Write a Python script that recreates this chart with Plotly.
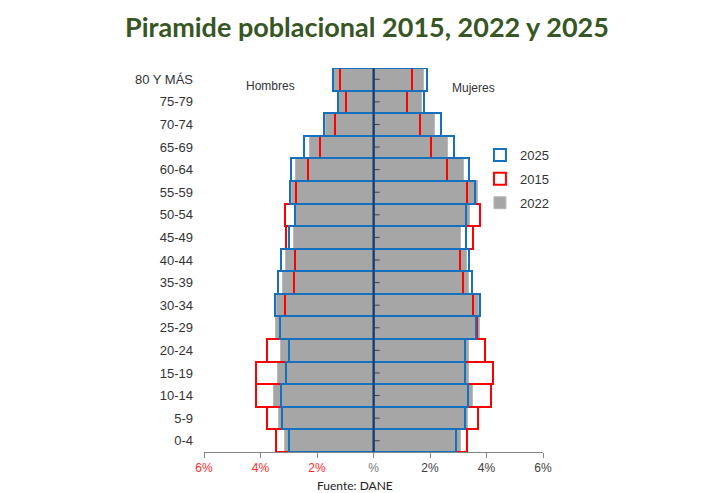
import plotly.graph_objects as go

cats = ['0-4', '5-9', '10-14', '15-19', '20-24', '25-29', '30-34', '35-39', '40-44',
        '45-49', '50-54', '55-59', '60-64', '65-69', '70-74', '75-79', '80 Y MÁS']

men_2025 = [3.00, 3.23, 3.26, 3.11, 3.00, 3.30, 3.47, 3.38, 3.29, 3.00, 2.77, 2.97, 2.93, 2.46, 1.76, 1.26, 1.44]
men_2015 = [3.46, 3.76, 4.15, 4.15, 3.76, 3.32, 3.14, 2.82, 2.77, 3.09, 3.14, 2.73, 2.32, 1.88, 1.38, 0.97, 1.20]
men_2022 = [3.15, 3.35, 3.52, 3.38, 3.26, 3.46, 3.40, 3.20, 3.09, 2.80, 2.75, 2.90, 2.76, 2.26, 1.67, 1.24, 1.40]

women_2025 = [2.92, 3.24, 3.33, 3.24, 3.24, 3.63, 3.77, 3.47, 3.39, 3.27, 3.27, 3.60, 3.39, 2.86, 2.39, 1.77, 1.88]
women_2015 = [3.30, 3.69, 4.16, 4.22, 3.96, 3.65, 3.53, 3.18, 3.06, 3.51, 3.78, 3.31, 2.60, 2.04, 1.63, 1.18, 1.35]
women_2022 = [3.10, 3.35, 3.51, 3.39, 3.39, 3.78, 3.75, 3.39, 3.31, 3.10, 3.42, 3.69, 3.22, 2.63, 2.16, 1.70, 1.77]

x_tickvals = [-6, -4, -2, 0, 2, 4, 6]
x_ticktext = ['<span style="color:#FF2A2A">6%</span>', '<span style="color:#FF2A2A">4%</span>',
              '<span style="color:#FF2A2A">2%</span>', '<span style="color:#777777">%</span>',
              '2%', '4%', '6%']

FONT = "Liberation Sans, Arial, sans-serif"


def both(men, women):
    return [-v for v in men] + list(women)


ys = cats + cats

fig = go.Figure()
fig.add_trace(go.Bar(
    name='2022', y=ys, x=both(men_2022, women_2022), orientation='h',
    legendgroup='g2022', legendrank=3,
    marker=dict(color='#A6A6A6', line=dict(color='#B8B8B8', width=1)),
))
fig.add_trace(go.Bar(
    name='2015', y=ys, x=both(men_2015, women_2015), orientation='h',
    legendgroup='g2015', legendrank=2,
    marker=dict(color='rgba(0,0,0,0)', line=dict(color='#FF0000', width=2)),
))
fig.add_trace(go.Bar(
    name='2025', y=ys, x=both(men_2025, women_2025), orientation='h',
    legendgroup='g2025', legendrank=1,
    marker=dict(color='rgba(0,0,0,0)', line=dict(color='#1570C0', width=2)),
))
# small tick marks on the central axis
fig.add_trace(go.Scatter(
    x=[0.12] * len(cats), y=cats, mode='markers', showlegend=False, hoverinfo='skip',
    marker=dict(symbol='line-ew-open', size=4, color='#404040',
                line=dict(color='#404040', width=1)),
))

fig.update_layout(
    width=710, height=493,
    margin=dict(l=196, r=175, t=60, b=49),
    paper_bgcolor='white', plot_bgcolor='white',
    barmode='overlay', bargap=0,
    font=dict(family=FONT, size=12, color='#333333'),
    legend=dict(x=0.814, y=0.8125, xanchor='left', yanchor='top',
                traceorder='grouped', tracegroupgap=4,
                font=dict(size=13, color='#333333'),
                bgcolor='rgba(0,0,0,0)', itemwidth=30),
    showlegend=True,
    xaxis=dict(range=[-6, 6], tickvals=x_tickvals, ticktext=x_ticktext,
               showgrid=False, zeroline=False, showline=True, linecolor='#868686',
               linewidth=1, ticks='outside', ticklen=5, tickcolor='#868686',
               tickfont=dict(size=12, color='#404040'), fixedrange=True),
    yaxis=dict(categoryorder='array', categoryarray=cats, range=[-0.5, 16.5],
               showgrid=False, zeroline=False, showline=False, ticks='',
               ticklabelstandoff=10, tickfont=dict(size=13, color='#333333')),
    shapes=[dict(type='line', xref='x', yref='paper', x0=0, x1=0, y0=0, y1=1,
                 line=dict(color='#1F3864', width=2), layer='above')],
    annotations=[
        dict(text='<b>Piramide poblacional 2015, 2022 y 2025</b>',
             xref='paper', yref='paper', x=(358.5 - 196) / 339, y=1 + 42 / 384,
             xanchor='center', yanchor='middle', showarrow=False,
             font=dict(family='Lato, sans-serif', size=27, color='#375623')),
        dict(text='Hombres', xref='x', yref='paper', x=-3.64, y=0.952, yanchor='middle',
             showarrow=False, font=dict(size=12, color='#333333')),
        dict(text='Mujeres', xref='x', yref='paper', x=3.53, y=0.947, yanchor='middle',
             showarrow=False, font=dict(size=12, color='#333333')),
        dict(text='Fuente: DANE', xref='paper', yref='paper', x=0.445,
             y=-33 / 384, yanchor='middle', showarrow=False,
             font=dict(family='Lato, sans-serif', size=12, color='#222222')),
    ],
)

fig.write_html("out.html")
